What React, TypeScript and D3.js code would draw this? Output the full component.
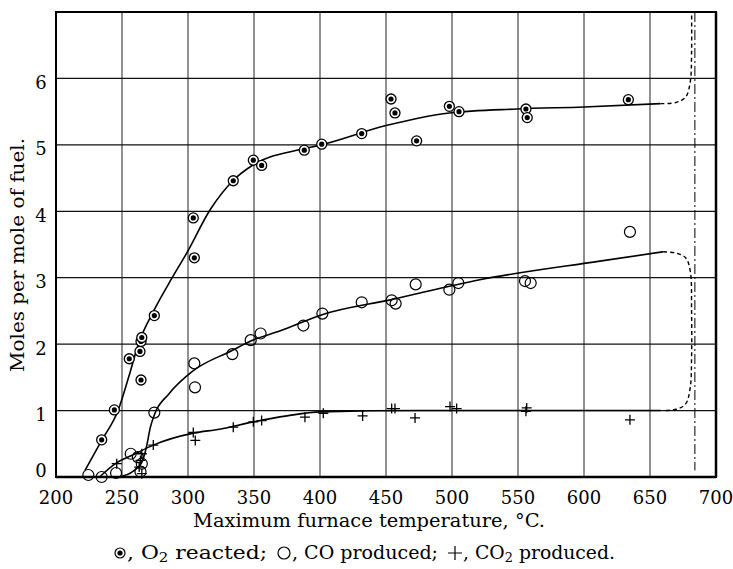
import * as d3 from 'd3';

// temperature (°C) / moles per mole of fuel
const o2Points: [number, number][] = [
  [234.6, 0.56], [244.2, 1.01], [255.5, 1.78], [263.6, 1.89], [264.4, 1.46],
  [264.4, 2.04], [265, 2.1], [274.5, 2.43], [304.8, 3.3], [304, 3.9],
  [334.3, 4.46], [349.5, 4.77], [355.8, 4.69], [388.1, 4.92], [401.3, 5.01],
  [431.6, 5.17], [453.8, 5.69], [456.8, 5.48], [473.2, 5.06], [498, 5.58],
  [505.3, 5.5], [556, 5.54], [557, 5.41], [633.6, 5.68],
];
const coPoints: [number, number][] = [
  [224.5, 0.03], [234.6, 0.0], [245.5, 0.06], [256.6, 0.35], [262, 0.3],
  [264, 0.08], [265, 0.2], [274.5, 0.97], [304.8, 1.71], [305.3, 1.35],
  [333.6, 1.85], [347.5, 2.06], [355, 2.16], [387.4, 2.28], [401.8, 2.46],
  [431.6, 2.63], [454.3, 2.66], [457.3, 2.61], [472.5, 2.9], [498, 2.82],
  [504.8, 2.92], [555.3, 2.95], [559.6, 2.92], [634.8, 3.69],
];
const co2Points: [number, number][] = [
  [246, 0.2], [263, 0.15], [264, 0.25], [265, 0.35], [265, 0.05],
  [273.7, 0.48], [304, 0.67], [305.5, 0.55], [334.3, 0.75], [349.5, 0.83],
  [355.8, 0.85], [388.6, 0.9], [402.5, 0.96], [432.3, 0.92], [454.3, 1.03],
  [456.8, 1.03], [472, 0.89], [498.5, 1.06], [503.5, 1.03], [556.6, 1.04],
  [556, 0.99], [634.8, 0.86],
];

// smoothed curves drawn through the points
const o2Curve: [number, number][] = [
  [222, 0.1], [234.6, 0.55], [247, 1.0], [255, 1.5], [262.4, 2.0], [274, 2.5],
  [288, 3.0], [299, 3.37], [317, 4.03], [334, 4.46], [349.5, 4.7], [385, 4.93],
  [401, 5.0], [450, 5.29], [498, 5.48], [549, 5.54], [600, 5.57], [658, 5.62],
];
const o2Dash: [number, number][] = [
  [658, 5.62], [670, 5.64], [677, 5.72], [680.5, 5.95], [681.5, 6.4], [681.5, 7.0],
];
const coCurve: [number, number][] = [
  [248, 0], [258, 0.08], [265, 0.22], [268.5, 0.45], [271.5, 0.75], [275, 0.96],
  [285, 1.24], [304, 1.6], [333, 1.9], [348, 2.05], [370, 2.2], [401, 2.44],
  [454, 2.67], [521, 2.97], [612, 3.25], [660, 3.39],
];
const coDash: [number, number][] = [
  [660, 3.39], [670, 3.37], [677, 3.3], [680.5, 3.1], [681.5, 2.5], [681.5, 1.8],
  [680.5, 1.35], [677, 1.1], [670, 1.02], [660, 1.0],
];
const co2Curve: [number, number][] = [
  [233, 0], [245, 0.2], [260, 0.35], [273.7, 0.48], [304, 0.66], [324, 0.72],
  [349.5, 0.83], [375, 0.92], [400, 0.98], [476, 1.0], [658, 1.0],
];
const limitTemp = 684;

const xTicks = [200, 250, 300, 350, 400, 450, 500, 550, 600, 650, 700];
const yTicks = [0, 1, 2, 3, 4, 5, 6];

const W = 733, H = 569;
const font = "'DejaVu Serif', 'Liberation Serif', serif";

export default function App() {
  const x = d3.scaleLinear().domain([200, 700]).range([56, 716]);
  const y = d3.scaleLinear().domain([0, 7]).range([477, 12]);

  const line = d3.line<[number, number]>()
    .x(d => x(d[0]))
    .y(d => y(d[1]))
    .curve(d3.curveMonotoneX);
  const bend = d3.line<[number, number]>()
    .x(d => x(d[0]))
    .y(d => y(d[1]))
    .curve(d3.curveCatmullRom.alpha(0.5));

  return (
    <svg width={W} height={H} style={{ position: 'absolute', left: 0, top: 0, background: '#fff' }}>
      {/* grid */}
      {xTicks.slice(1, -1).map(t => (
        <line key={'gx' + t} x1={x(t)} x2={x(t)} y1={y(7)} y2={y(0)} stroke="#222" strokeWidth={1} />
      ))}
      {yTicks.slice(1).map(t => (
        <line key={'gy' + t} x1={x(200)} x2={x(700)} y1={y(t)} y2={y(t)} stroke="#111" strokeWidth={1.3} />
      ))}
      <rect x={x(200)} y={y(7)} width={x(700) - x(200)} height={y(0) - y(7)} fill="none" stroke="#000" strokeWidth={2} />
      <line x1={x(200)} x2={x(700)} y1={y(0)} y2={y(0)} stroke="#000" strokeWidth={2.5} />
      <line x1={x(700)} x2={x(700)} y1={y(7)} y2={y(0)} stroke="#000" strokeWidth={2.5} />

      {/* limit line */}
      <line x1={x(limitTemp)} x2={x(limitTemp)} y1={y(7)} y2={y(0.1)} stroke="#000" strokeWidth={1}
        strokeDasharray="10 3 2 3" />

      {/* curves */}
      <path d={line(o2Curve) || ''} fill="none" stroke="#000" strokeWidth={1.6} />
      <path d={line(coCurve) || ''} fill="none" stroke="#000" strokeWidth={1.6} />
      <path d={line(co2Curve) || ''} fill="none" stroke="#000" strokeWidth={1.6} />
      <path d={bend(o2Dash) || ''} fill="none" stroke="#000" strokeWidth={1.4} strokeDasharray="4 3" />
      <path d={bend(coDash) || ''} fill="none" stroke="#000" strokeWidth={1.4} strokeDasharray="4 3" />

      {/* markers */}
      {coPoints.map((d, i) => (
        <circle key={'co' + i} cx={x(d[0])} cy={y(d[1])} r={5.5} fill="none" stroke="#000" strokeWidth={1.2} />
      ))}
      {o2Points.map((d, i) => (
        <g key={'o2' + i}>
          <circle cx={x(d[0])} cy={y(d[1])} r={5} fill="#fff" stroke="#000" strokeWidth={1.3} />
          <circle cx={x(d[0])} cy={y(d[1])} r={2.6} fill="#000" />
        </g>
      ))}
      {co2Points.map((d, i) => (
        <path key={'co2' + i}
          d={`M${x(d[0]) - 5},${y(d[1])}h10M${x(d[0])},${y(d[1]) - 5}v10`}
          stroke="#000" strokeWidth={1.3} />
      ))}

      {/* tick labels */}
      {xTicks.map(t => (
        <text key={'tx' + t} x={x(t)} y={504} textAnchor="middle" fontFamily={font} fontSize={18}>{t}</text>
      ))}
      {yTicks.map(t => (
        <text key={'ty' + t} x={41} y={y(t) + (t === 0 ? -0.5 : 10.5)} textAnchor="middle" fontFamily={font} fontSize={18}>{t}</text>
      ))}

      <text x={369} y={527} textAnchor="middle" fontFamily={font} fontSize={19}
        textLength={352} lengthAdjust="spacingAndGlyphs">
        Maximum furnace temperature, °C.
      </text>
      <text transform={`translate(24,255) rotate(-90)`} textAnchor="middle" fontFamily={font} fontSize={19}
        textLength={234} lengthAdjust="spacingAndGlyphs">
        Moles per mole of fuel.
      </text>

      {/* caption */}
      <g fontFamily={font} fontSize={19}>
        <circle cx={120} cy={553} r={5} fill="#fff" stroke="#000" strokeWidth={1.2} />
        <circle cx={120} cy={553} r={2.6} fill="#000" />
        <text x={127} y={559} textLength={140} lengthAdjust="spacingAndGlyphs">
          , O<tspan fontSize={13} dy={3}>2</tspan><tspan dy={-3}> reacted;</tspan>
        </text>
        <circle cx={284} cy={553} r={6} fill="none" stroke="#000" strokeWidth={1.2} />
        <text x={292} y={559} textLength={146} lengthAdjust="spacingAndGlyphs">, CO produced;</text>
        <path d="M448,553h14M455,546v14" stroke="#000" strokeWidth={1.2} />
        <text x={463} y={559} textLength={152} lengthAdjust="spacingAndGlyphs">
          , CO<tspan fontSize={13} dy={3}>2</tspan><tspan dy={-3}> produced.</tspan>
        </text>
      </g>
    </svg>
  );
}
